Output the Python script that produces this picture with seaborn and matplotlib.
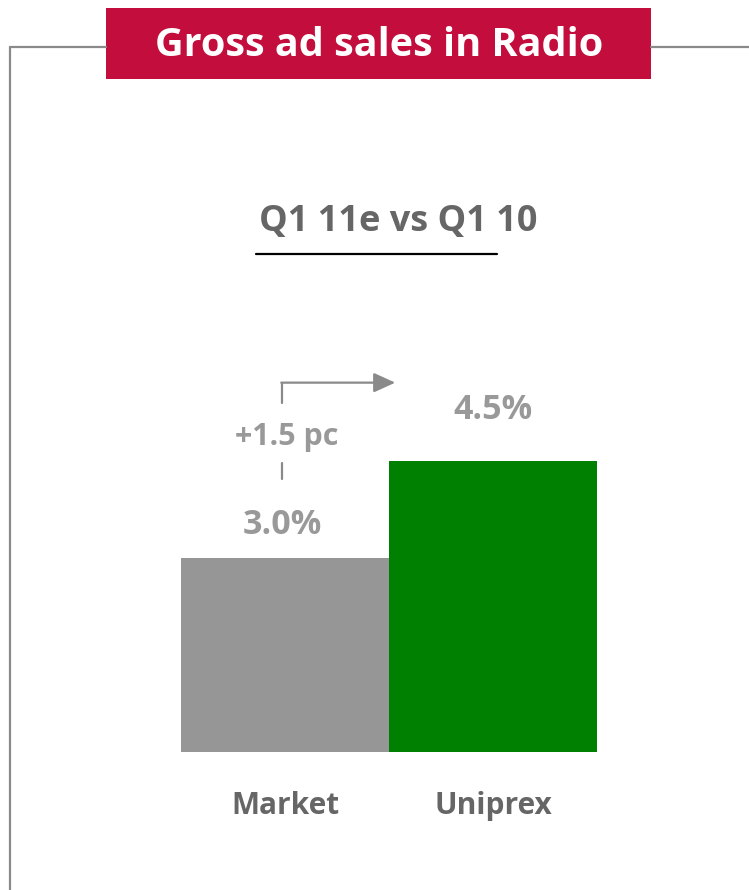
import matplotlib
matplotlib.use('Agg')
import matplotlib.pyplot as plt
import seaborn as sns
import pandas as pd
from matplotlib.patches import Rectangle
from matplotlib.lines import Line2D

# Chart data
categories = ["Market", "Uniprex"]
growth = [3.0, 4.5]
value_labels = ["3.0%", "4.5%"]
bar_colors = ["#969696", "#008000"]
gap_label = "+1.5 pc"
title = "Gross ad sales in Radio"
subtitle = "Q1 11e vs Q1 10"

sns.set_theme(style="white")
plt.rcParams['font.family'] = ['Open Sans', 'DejaVu Sans']

W, H = 749, 890
fig = plt.figure(figsize=(W / 100, H / 100), dpi=100)
fig.patch.set_facecolor("white")


def fx(px):
    return px / W


def fy(py):
    return 1 - py / H


# Outer frame lines
frame_kw = dict(color="#8a8a8a", lw=1.6, transform=fig.transFigure)
fig.add_artist(Line2D([fx(10), fx(10)], [fy(47), fy(890)], **frame_kw))
fig.add_artist(Line2D([fx(10), fx(106)], [fy(47), fy(47)], **frame_kw))
fig.add_artist(Line2D([fx(651), fx(749)], [fy(47), fy(47)], **frame_kw))

# Title box
fig.add_artist(Rectangle((fx(106), fy(79)), fx(651) - fx(106), fy(8) - fy(79),
                         transform=fig.transFigure, facecolor="#C20D3D",
                         edgecolor="none"))
fig.text(fx(379), fy(46), title, ha="center", va="center", color="white",
         fontsize=28.5, fontweight="bold")

# Subtitle with underline
fig.text(fx(398), fy(222), subtitle, ha="center", va="center", color="#666666",
         fontsize=26, fontweight="bold")
fig.add_artist(Line2D([fx(256), fx(497)], [fy(254), fy(254)], color="black",
                      lw=1.6, transform=fig.transFigure))

# Bars
ax = fig.add_axes([fx(181), fy(752), fx(597) - fx(181), fy(300) - fy(752)])
df = pd.DataFrame({"category": categories, "growth": growth})
sns.barplot(data=df, x="category", y="growth", hue="category",
            palette=bar_colors, width=1.0, saturation=1, legend=False,
            linewidth=0, ax=ax)
ax.set_xlim(-0.5, 1.5)
ax.set_ylim(0, 7.0)
ax.set_xlabel("")
ax.set_ylabel("")
ax.set_yticks([])
ax.tick_params(axis="x", length=0, pad=28, labelsize=21.5, labelcolor="#666666")
for lbl in ax.get_xticklabels():
    lbl.set_fontweight("bold")
for s in ax.spines.values():
    s.set_visible(False)
ax.patch.set_alpha(0)

# Value labels
offsets = [0.52, 0.79]
for i, (v, lab) in enumerate(zip(growth, value_labels)):
    ax.text(i - 0.015 if i == 0 else i, v + offsets[i], lab, ha="center",
            va="center", color="#999999", fontsize=24.5, fontweight="bold")

# Gap connector arrow
cx = -0.014
ax.plot([cx, cx], [4.23, 4.47], color="#8a8a8a", lw=1.6)
ax.plot([cx, cx], [5.40, 5.72], color="#8a8a8a", lw=1.6)
ax.annotate("", xy=(0.53, 5.72), xytext=(cx - 0.004, 5.72),
            arrowprops=dict(arrowstyle="-|>,head_length=1.1,head_width=0.5",
                            color="#8a8a8a", lw=1.6, shrinkA=0, shrinkB=0))
ax.text(0.01, 4.88, gap_label, ha="center", va="center", color="#999999",
        fontsize=22, fontweight="bold")

fig.savefig("out.png", dpi=100)
plt.close(fig)
